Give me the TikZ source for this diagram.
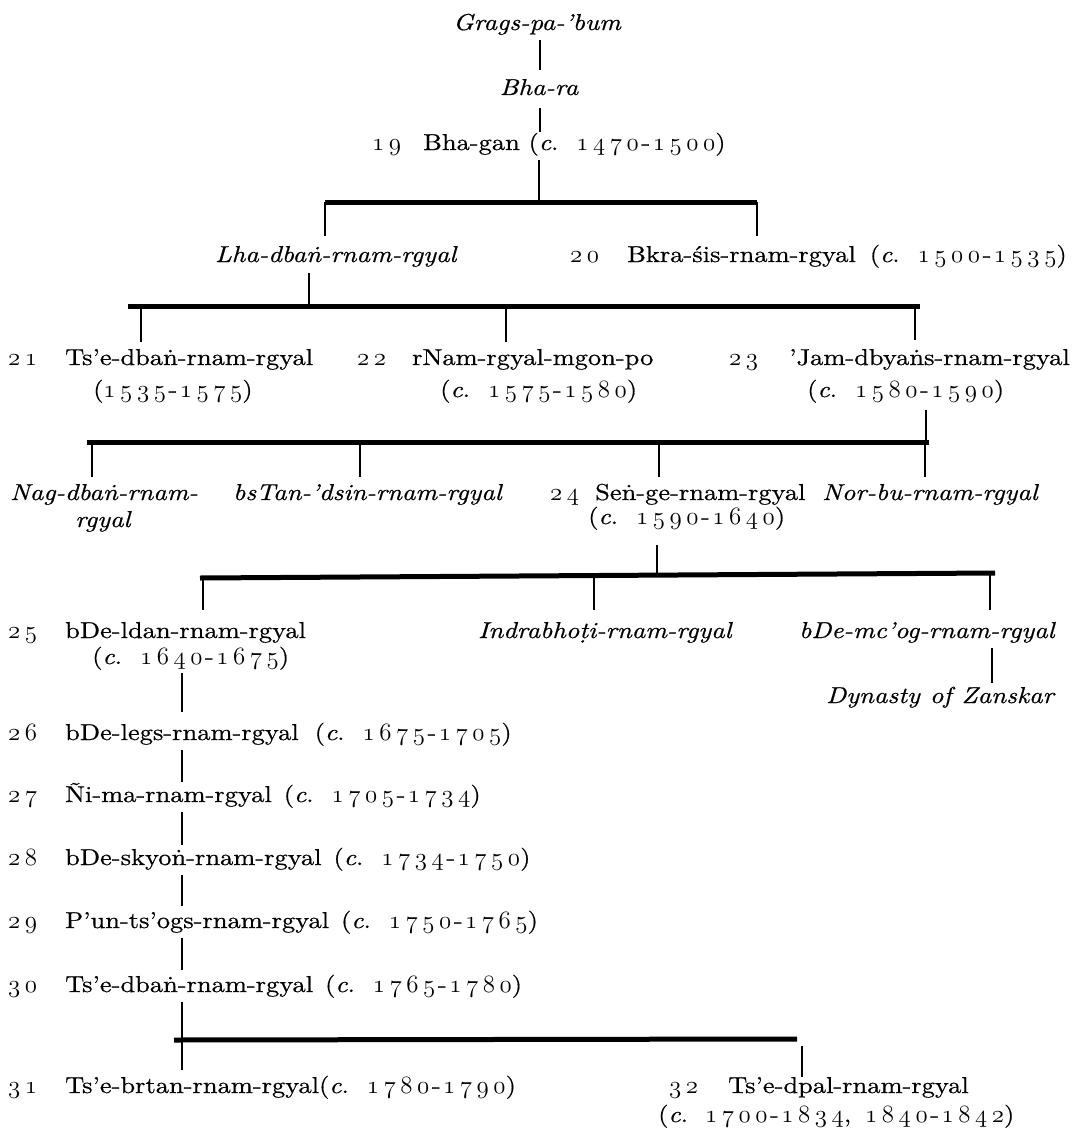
\documentclass[tikz,border=0pt]{standalone}
\usepackage{fontspec}
\setmainfont{lmroman10-regular.otf}[ItalicFont=lmroman10-italic.otf,BoldFont=lmroman10-bold.otf,FakeStretch=1.15,FakeBold=0.6]
\makeatletter
\newdimen\oskern \oskern=4.6pt
\newdimen\hk \hk=2.5pt
\newcommand\osd[1]{{\fontsize{26}{28}\usefont{OML}{cmm}{m}{it}#1}}
\def\os@loop#1{\ifx\relax#1\else\osd{#1}\kern\oskern\expandafter\os@loop\fi}
\newcommand\os[1]{\os@loop#1\relax\unkern}
\makeatother
\newcommand\yrs[2]{\os{#1}\kern\hk-\kern\hk\os{#2}}
\newcommand\cdt[2]{(\textit{c}.\hspace{18pt}\yrs{#1}{#2})}
\begin{document}
\begin{tikzpicture}[x=1pt,y=-1pt,
  nm/.style={anchor=base west, inner sep=0pt, align=left, font=\fontsize{23}{28}\selectfont},
  itn/.style={nm, font=\fontsize{23}{28}\selectfont\itshape},
  bar/.style={line width=5pt},
  vl/.style={line width=2pt}]
\useasboundingbox[fill=white] (0,0) rectangle (1087,1132);
% (two-line nodes are placed at the baseline of their last line)

% ---- top lineage
\node[itn, anchor=base] (grags) at (537,30) {Grags-pa-'bum};
\node[itn, anchor=base] (bhara) at (539,95) {Bha-ra};
\node[nm] (n19) at (372,150) {\os{19}};
\node[nm] (bhagan) at (423,150) {Bha-gan \cdt{1470}{1500}};
\coordinate (a1) at (540,40);  \coordinate (a2) at (540,70);
\coordinate (a3) at (540,108); \coordinate (a4) at (540,132);
\coordinate (a5) at (539,160);
\draw[vl] (a1) -- (a2);
\draw[vl] (a3) -- (a4);

% ---- bar 1
\coordinate (b1l) at (325,202); \coordinate (b1j) at (539,202); \coordinate (b1r) at (757,202);
\draw[vl] (a5) -- (b1j);
\draw[bar] (b1l) -- (b1r);
\coordinate (d1a) at (325,236); \coordinate (d1b) at (757,236);
\draw[vl] (b1l) -- (d1a);
\draw[vl] (b1r) -- (d1b);
\node[itn] (lha) at (215,262) {Lha-dbaṅ-rnam-rgyal};
\node[nm] (n20) at (570,262) {\os{20}};
\node[nm] (bkra) at (627,262) {Bkra-śis-rnam-rgyal\hspace{14pt}\cdt{1500}{1535}};

% ---- bar 2
\coordinate (e1) at (309,273); \coordinate (b2j) at (309,306);
\draw[vl] (e1) -- (b2j);
\coordinate (b2l) at (128,306); \coordinate (b2r) at (920,306);
\draw[bar] (b2l) -- (b2r);
\coordinate (u21) at (141,306); \coordinate (v21) at (141,342);
\coordinate (u22) at (506,306); \coordinate (v22) at (506,342);
\coordinate (u23) at (915,306); \coordinate (v23) at (915,340);
\draw[vl] (u21) -- (v21);
\draw[vl] (u22) -- (v22);
\draw[vl] (u23) -- (v23);
\node[nm] (n21) at (8,365) {\os{21}};
\node[nm] (tse1) at (65,397) {Ts'e-dbaṅ-rnam-rgyal\\[4pt]\hspace*{28pt}(\yrs{1535}{1575})};
\node[nm] (n22) at (357,365) {\os{22}};
\node[nm] (rnam) at (412,397) {rNam-rgyal-mgon-po\\[4pt]\hspace*{28pt}\cdt{1575}{1580}};
\node[nm] (n23) at (729,365) {\os{23}};
\node[nm] (jam) at (789,397) {'Jam-dbyaṅs-rnam-rgyal\\[4pt]\hspace*{18pt}\cdt{1580}{1590}};

% ---- bar 3
\coordinate (f1) at (926,410); \coordinate (b3j) at (926,442);
\draw[vl] (f1) -- (b3j);
\coordinate (b3l) at (87,442); \coordinate (b3r) at (929,442);
\draw[bar] (b3l) -- (b3r);
\coordinate (u31) at (92,442);  \coordinate (v31) at (92,477);
\coordinate (u32) at (360,442); \coordinate (v32) at (360,477);
\coordinate (u33) at (659,442); \coordinate (v33) at (659,477);
\coordinate (u34) at (925,442); \coordinate (v34) at (925,477);
\draw[vl] (u31) -- (v31);
\draw[vl] (u32) -- (v32);
\draw[vl] (u33) -- (v33);
\draw[vl] (u34) -- (v34);
\node[itn] (nag) at (10,527) {Nag-dbaṅ-rnam-\\[-1pt]\hspace*{65pt}rgyal};
\node[itn] (bstan) at (233,500) {bsTan-'dsin-rnam-rgyal};
\node[nm] (n24) at (550,500) {\os{24}};
\node[nm] (senge) at (588,524) {\hspace*{7pt}Seṅ-ge-rnam-rgyal\\[-4pt]\cdt{1590}{1640}};
\node[itn] (norbu) at (822,500) {Nor-bu-rnam-rgyal};

% ---- bar 4
\coordinate (g1) at (657,545); \coordinate (b4j) at (657,576);
\draw[vl] (g1) -- (b4j);
\coordinate (b4l) at (200,578); \coordinate (b4r) at (995,573);
\draw[bar] (b4l) -- (b4r);
\coordinate (u41) at (203,578); \coordinate (v41) at (203,610);
\coordinate (u42) at (594,576); \coordinate (v42) at (594,610);
\coordinate (u43) at (990,573); \coordinate (v43) at (990,610);
\draw[vl] (u41) -- (v41);
\draw[vl] (u42) -- (v42);
\draw[vl] (u43) -- (v43);
\node[nm] (n25) at (8,638) {\os{25}};
\node[nm] (bdeldan) at (65,664) {bDe-ldan-rnam-rgyal\\[-2pt]\hspace*{27pt}\cdt{1640}{1675}};
\node[itn] (indra) at (478,638) {Indrabhoṭi-rnam-rgyal};
\node[itn] (bdemcog) at (799,638) {bDe-mc'og-rnam-rgyal};
\coordinate (h1) at (992,648); \coordinate (h2) at (992,683);
\draw[vl] (h1) -- (h2);
\node[itn] (zans) at (826,703) {Dynasty\hspace{10pt}of\hspace{10pt}Zanskar};

% ---- single line of descent
\coordinate (k1) at (182,673);  \coordinate (k2) at (182,712);
\coordinate (k3) at (182,750);  \coordinate (k4) at (182,782);
\coordinate (k5) at (182,812);  \coordinate (k6) at (182,845);
\coordinate (k7) at (182,875);  \coordinate (k8) at (182,906);
\coordinate (k9) at (182,938);  \coordinate (k10) at (182,970);
\coordinate (k11) at (182,1002);
\draw[vl] (k1) -- (k2);
\draw[vl] (k3) -- (k4);
\draw[vl] (k5) -- (k6);
\draw[vl] (k7) -- (k8);
\draw[vl] (k9) -- (k10);
\node[nm] (n26) at (8,740) {\os{26}};
\node[nm] (r26) at (65,740) {bDe-legs-rnam-rgyal\hspace{16pt}\cdt{1675}{1705}};
\node[nm] (n27) at (8,802) {\os{27}};
\node[nm] (r27) at (65,802) {Ñi-ma-rnam-rgyal\hspace{12pt}\cdt{1705}{1734}};
\node[nm] (n28) at (8,865) {\os{28}};
\node[nm] (r28) at (65,865) {bDe-skyoṅ-rnam-rgyal\hspace{12pt}\cdt{1734}{1750}};
\node[nm] (n29) at (8,928) {\os{29}};
\node[nm] (r29) at (65,928) {P'un-ts'ogs-rnam-rgyal\hspace{12pt}\cdt{1750}{1765}};
\node[nm] (n30) at (8,992) {\os{30}};
\node[nm] (r30) at (65,992) {Ts'e-dbaṅ-rnam-rgyal\hspace{12pt}\cdt{1765}{1780}};

% ---- bar 5
\coordinate (b5l) at (174,1040); \coordinate (b5j) at (182,1040); \coordinate (b5r) at (797,1039);
\draw[vl] (k11) -- (b5j);
\draw[bar] (b5l) -- (b5r);
\coordinate (v51) at (182,1070);
\coordinate (u52) at (802,1046); \coordinate (v52) at (802,1077);
\draw[vl] (b5j) -- (v51);
\draw[vl] (u52) -- (v52);
\node[nm] (n31) at (8,1093) {\os{31}};
\node[nm] (r31) at (65,1093) {Ts'e-brtan-rnam-rgyal\cdt{1780}{1790}};
\node[nm] (n32) at (669,1093) {\os{32}};
\node[nm] (r32) at (658,1122) {\hspace*{70pt}Ts'e-dpal-rnam-rgyal\\[1pt](\textit{c}.\hspace{17pt}\yrs{1700}{1834},\hspace{14pt}\yrs{1840}{1842})};
\end{tikzpicture}
\end{document}
